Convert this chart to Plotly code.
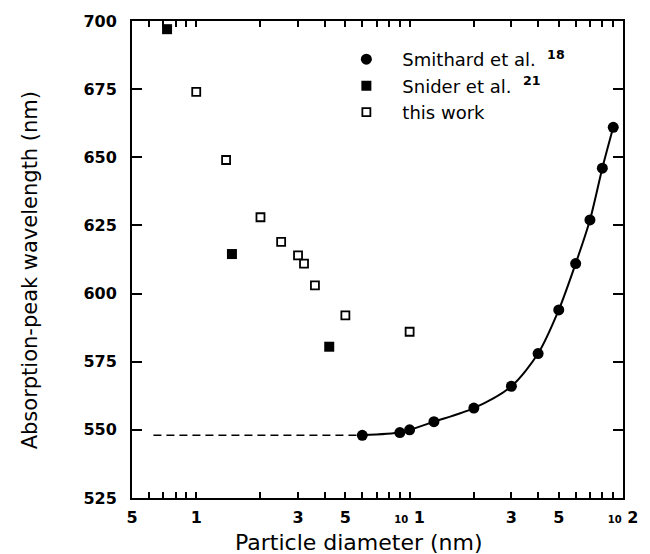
import math
import plotly.graph_objects as go

# ---------------- data ----------------
smithard_d = [6, 9, 10, 13, 20, 30, 40, 50, 60, 70, 80, 90]
smithard_w = [548, 549, 550, 553, 558, 566, 578, 594, 611, 627, 646, 661]

snider_d = [0.73, 1.47, 4.2]
snider_w = [697, 614.5, 580.5]

this_d = [1.0, 1.38, 2.0, 2.5, 3.0, 3.2, 3.6, 5.0, 10.0]
this_w = [674, 649, 628, 619, 614, 611, 603, 592, 586]

dash_d = [0.63, 6]
dash_w = [548, 548]

x_tickvals = [0.5, 1, 3, 5, 10, 30, 50, 100]
x_ticktext = ["5", "1", "3", "5",
              "<span style='font-size:10px'>10</span> 1", "3", "5",
              "<span style='font-size:10px'>10</span> 2"]
x_minor = [0.6, 0.7, 0.8, 0.9, 2, 4, 6, 7, 8, 9, 20, 40, 60, 70, 80, 90]
x_major_long = [1, 10, 100]
y_tickvals = [525, 550, 575, 600, 625, 650, 675, 700]

TICKFONT = dict(family="DejaVu Sans", size=16, color="black", weight="bold")
LEGFONT = dict(family="DejaVu Sans", size=18, color="black")
YTITLEFONT = dict(family="DejaVu Sans", size=21, color="black")
XTITLEFONT = dict(family="DejaVu Sans", size=22, color="black")

fig = go.Figure()

fig.add_trace(go.Scatter(x=dash_d, y=dash_w, mode="lines",
                         line=dict(color="black", width=1.5, dash="8px,5px"),
                         showlegend=False, hoverinfo="skip"))
fig.add_trace(go.Scatter(x=smithard_d, y=smithard_w, mode="lines",
                         line=dict(color="black", width=2, shape="spline", smoothing=0.8),
                         showlegend=False, hoverinfo="skip"))
fig.add_trace(go.Scatter(x=smithard_d, y=smithard_w, mode="markers",
                         name="Smithard et al.  <sup><b>18</b></sup>",
                         marker=dict(symbol="circle", size=11, color="black")))
fig.add_trace(go.Scatter(x=snider_d, y=snider_w, mode="markers",
                         name="Snider et al.  <sup><b>21</b></sup>",
                         marker=dict(symbol="square", size=10, color="black")))
fig.add_trace(go.Scatter(x=this_d, y=this_w, mode="markers",
                         name="this work",
                         marker=dict(symbol="square-open", size=8, color="black",
                                     line=dict(width=1.8, color="black"))))

xrange = [math.log10(0.5), 2]

fig.update_layout(
    width=650, height=554,
    margin=dict(l=132, r=25, t=15, b=56),
    paper_bgcolor="white", plot_bgcolor="white",
    xaxis=dict(type="log", range=xrange, showgrid=False, zeroline=False,
               showline=True, linecolor="black", linewidth=2, mirror="ticks",
               ticks="inside", ticklen=6, tickwidth=1.5, tickcolor="black",
               tickmode="array", tickvals=x_tickvals, ticktext=x_ticktext,
               tickfont=TICKFONT, ticklabelstandoff=4,
               minor=dict(tickmode="array", tickvals=x_minor, ticks="inside",
                          ticklen=6, tickwidth=1.5, tickcolor="black", showgrid=False)),
    xaxis2=dict(type="log", range=xrange, overlaying="x", matches="x",
                showgrid=False, zeroline=False, showline=False, mirror="ticks",
                ticks="inside", ticklen=9, tickwidth=1.5, tickcolor="black",
                tickmode="array", tickvals=x_major_long, showticklabels=False),
    yaxis=dict(range=[525, 700], showgrid=False, zeroline=False,
               showline=True, linecolor="black", linewidth=2, mirror="ticks",
               ticks="inside", ticklen=10, tickwidth=1.5, tickcolor="black",
               tickmode="array", tickvals=y_tickvals,
               tickfont=TICKFONT, ticklabelstandoff=10),
    legend=dict(x=0.404, y=0.958, xanchor="left", yanchor="top",
                bgcolor="rgba(0,0,0,0)", font=LEGFONT, tracegroupgap=0,
                itemsizing="trace", itemwidth=62),
    showlegend=True,
    annotations=[
        dict(text="Particle diameter (nm)", xref="paper", yref="paper",
             x=0.462, y=-0.093, xanchor="center", yanchor="middle",
             showarrow=False, font=XTITLEFONT),
        dict(text="Absorption-peak wavelength (nm)", xref="paper", yref="paper",
             x=-0.207, y=0.478, xanchor="center", yanchor="middle",
             textangle=-90, showarrow=False, font=YTITLEFONT),
    ],
)

fig.write_html("out.html")
